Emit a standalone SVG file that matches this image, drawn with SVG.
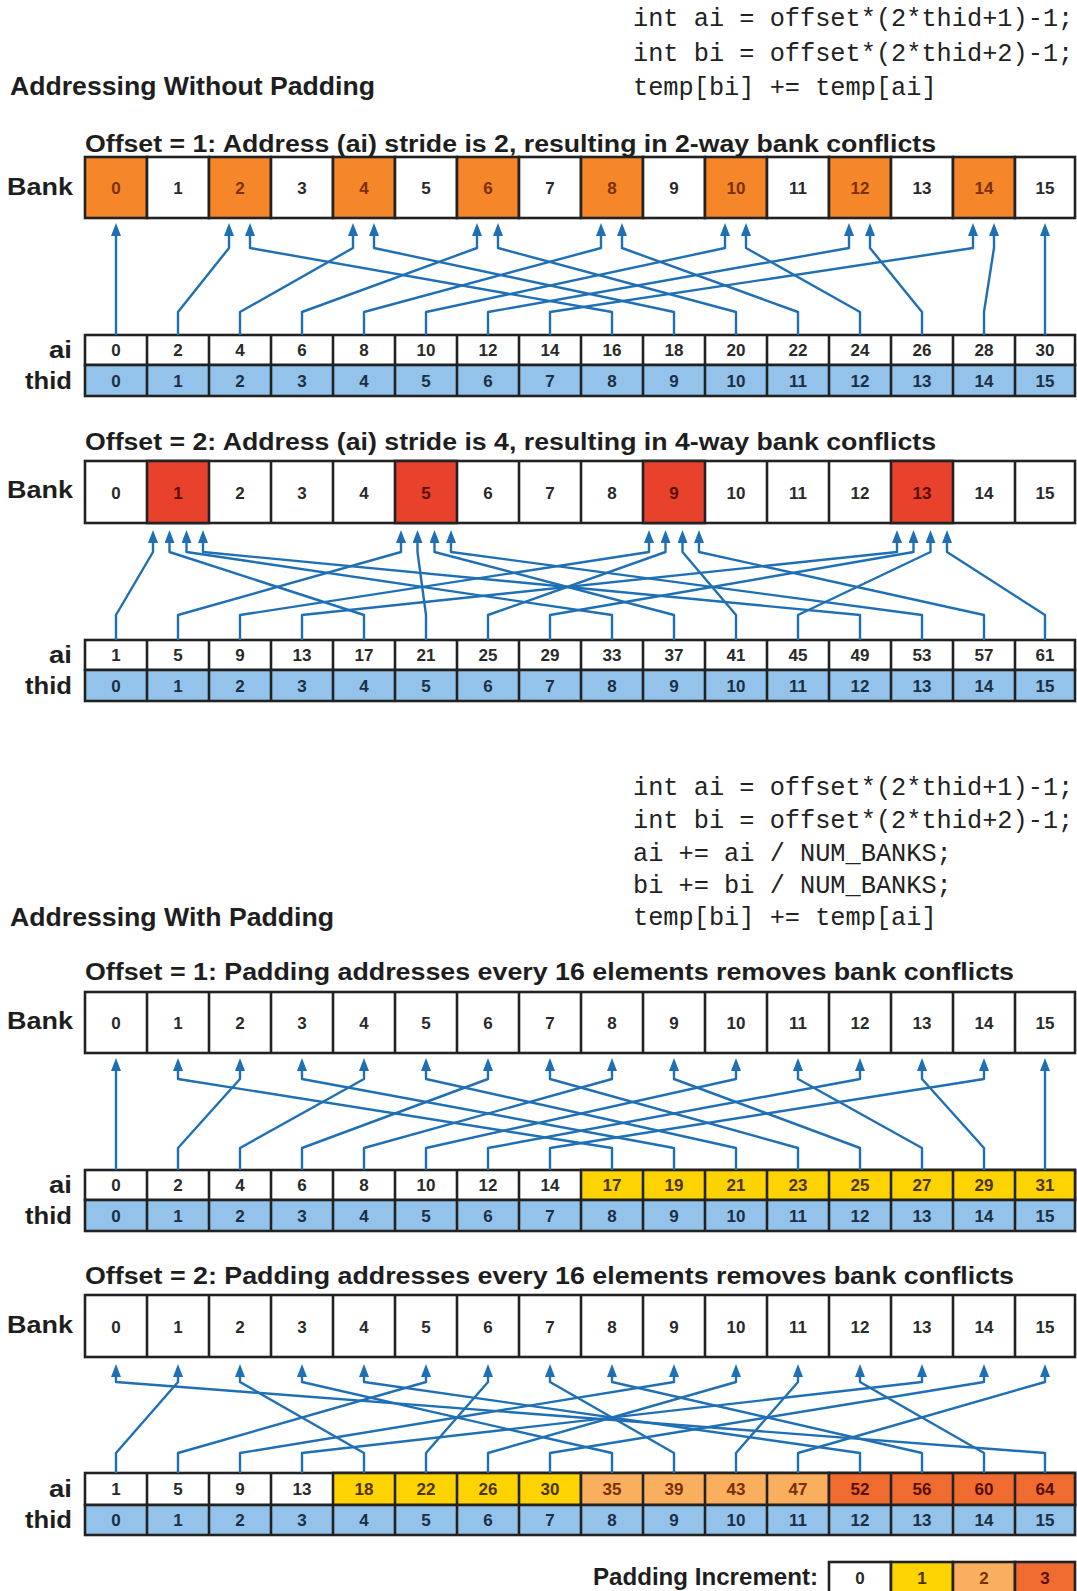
<svg xmlns="http://www.w3.org/2000/svg" width="1077" height="1591" viewBox="0 0 1077 1591">
<style>
.h{font-family:"Liberation Sans",Arial,sans-serif;font-weight:bold;fill:#1e1e1e}
.code{font-family:"Liberation Mono","Courier New",monospace;font-size:25.3px;fill:#222}
.c{stroke:#222;stroke-width:2.6}
.w{fill:#fff}.or{fill:#f5862a}.rd{fill:#e8412c}.bl{fill:#93c3ea}.y1{fill:#ffd300}.y2{fill:#f9af5e}.y3{fill:#ef6b30}
.n{font-family:"Liberation Sans",Arial,sans-serif;font-size:17px;font-weight:bold;text-anchor:middle;fill:#2a2a2a}
.nor{fill:#7a3000}.nrd{fill:#5a0e05}.nbl{fill:#1c2f45}.ny{fill:#4a3500}
.conn polyline{fill:none;stroke:#1f6fb4;stroke-width:2.4;stroke-linejoin:round;marker-end:url(#ah)}
</style>
<defs>
<marker id="ah" markerUnits="userSpaceOnUse" markerWidth="13" markerHeight="10" viewBox="0 0 13 10" refX="4" refY="5" orient="auto"><path d="M0,0 L13,5 L0,10 z" fill="#1f6fb4"/></marker>
</defs>
<rect x="0" y="0" width="1077" height="1591" fill="#fff"/>

<g id="heading-top">
<text class="h" x="10" y="95" font-size="25" textLength="365" lengthAdjust="spacingAndGlyphs">Addressing Without Padding</text>
</g>
<g id="code-top">
<text class="code" x="633" y="26">int ai = offset*(2*thid+1)-1;</text>
<text class="code" x="633" y="60.5">int bi = offset*(2*thid+2)-1;</text>
<text class="code" x="633" y="95">temp[bi] += temp[ai]</text>
</g>

<!-- Section 1 -->
<g id="s1-title"><text class="h" x="85" y="152" font-size="23" textLength="851" lengthAdjust="spacingAndGlyphs">Offset = 1: Address (ai) stride is 2, resulting in 2-way bank conflicts</text></g>
<g id="s1-bank">
<text class="h" x="7" y="195" font-size="23.5" textLength="66" lengthAdjust="spacingAndGlyphs">Bank</text>
<rect class="c or" x="85" y="157" width="62" height="61"/><rect class="c w" x="147" y="157" width="62" height="61"/>
<rect class="c or" x="209" y="157" width="62" height="61"/><rect class="c w" x="271" y="157" width="62" height="61"/>
<rect class="c or" x="333" y="157" width="62" height="61"/><rect class="c w" x="395" y="157" width="62" height="61"/>
<rect class="c or" x="457" y="157" width="62" height="61"/><rect class="c w" x="519" y="157" width="62" height="61"/>
<rect class="c or" x="581" y="157" width="62" height="61"/><rect class="c w" x="643" y="157" width="62" height="61"/>
<rect class="c or" x="705" y="157" width="62" height="61"/><rect class="c w" x="767" y="157" width="62" height="61"/>
<rect class="c or" x="829" y="157" width="62" height="61"/><rect class="c w" x="891" y="157" width="62" height="61"/>
<rect class="c or" x="953" y="157" width="62" height="61"/><rect class="c w" x="1015" y="157" width="60" height="61"/>
<text class="n nor" x="116" y="194">0</text><text class="n" x="178" y="194">1</text>
<text class="n nor" x="240" y="194">2</text><text class="n" x="302" y="194">3</text>
<text class="n nor" x="364" y="194">4</text><text class="n" x="426" y="194">5</text>
<text class="n nor" x="488" y="194">6</text><text class="n" x="550" y="194">7</text>
<text class="n nor" x="612" y="194">8</text><text class="n" x="674" y="194">9</text>
<text class="n nor" x="736" y="194">10</text><text class="n" x="798" y="194">11</text>
<text class="n nor" x="860" y="194">12</text><text class="n" x="922" y="194">13</text>
<text class="n nor" x="984" y="194">14</text><text class="n" x="1045" y="194">15</text>
</g>
<g id="s1-ai">
<text class="h" x="49" y="358" font-size="23.5" textLength="23" lengthAdjust="spacingAndGlyphs">ai</text>
<rect class="c w" x="85" y="335" width="990" height="30"/>
<path class="c" d="M147,335v30M209,335v30M271,335v30M333,335v30M395,335v30M457,335v30M519,335v30M581,335v30M643,335v30M705,335v30M767,335v30M829,335v30M891,335v30M953,335v30M1015,335v30"/>
<text class="n" x="116" y="356">0</text><text class="n" x="178" y="356">2</text><text class="n" x="240" y="356">4</text><text class="n" x="302" y="356">6</text>
<text class="n" x="364" y="356">8</text><text class="n" x="426" y="356">10</text><text class="n" x="488" y="356">12</text><text class="n" x="550" y="356">14</text>
<text class="n" x="612" y="356">16</text><text class="n" x="674" y="356">18</text><text class="n" x="736" y="356">20</text><text class="n" x="798" y="356">22</text>
<text class="n" x="860" y="356">24</text><text class="n" x="922" y="356">26</text><text class="n" x="984" y="356">28</text><text class="n" x="1045" y="356">30</text>
</g>
<g id="s1-thid">
<text class="h" x="25" y="388.5" font-size="23.5" textLength="47" lengthAdjust="spacingAndGlyphs">thid</text>
<rect class="c bl" x="85" y="365" width="990" height="31"/>
<path class="c" d="M147,365v31M209,365v31M271,365v31M333,365v31M395,365v31M457,365v31M519,365v31M581,365v31M643,365v31M705,365v31M767,365v31M829,365v31M891,365v31M953,365v31M1015,365v31"/>
<text class="n nbl" x="116" y="387">0</text><text class="n nbl" x="178" y="387">1</text><text class="n nbl" x="240" y="387">2</text><text class="n nbl" x="302" y="387">3</text>
<text class="n nbl" x="364" y="387">4</text><text class="n nbl" x="426" y="387">5</text><text class="n nbl" x="488" y="387">6</text><text class="n nbl" x="550" y="387">7</text>
<text class="n nbl" x="612" y="387">8</text><text class="n nbl" x="674" y="387">9</text><text class="n nbl" x="736" y="387">10</text><text class="n nbl" x="798" y="387">11</text>
<text class="n nbl" x="860" y="387">12</text><text class="n nbl" x="922" y="387">13</text><text class="n nbl" x="984" y="387">14</text><text class="n nbl" x="1045" y="387">15</text>
</g>
<g id="s1-connectors" class="conn">
<polyline points="116,335 116,232"/>
<polyline points="178,335 178,312 229,248 229,232"/>
<polyline points="240,335 240,312 353,248 353,232"/>
<polyline points="302,335 302,312 477,248 477,232"/>
<polyline points="364,335 364,312 601,248 601,232"/>
<polyline points="426,335 426,312 725,248 725,232"/>
<polyline points="488,335 488,312 849,248 849,232"/>
<polyline points="550,335 550,312 973,248 973,232"/>
<polyline points="612,335 612,312 250,248 250,232"/>
<polyline points="674,335 674,312 374,248 374,232"/>
<polyline points="736,335 736,312 498,248 498,232"/>
<polyline points="798,335 798,312 622,248 622,232"/>
<polyline points="860,335 860,312 746,248 746,232"/>
<polyline points="922,335 922,312 870,248 870,232"/>
<polyline points="984,335 984,312 994,248 994,232"/>
<polyline points="1045,335 1045,232"/>
</g>

<!-- Section 2 -->
<g id="s2-title"><text class="h" x="85" y="450" font-size="23" textLength="851" lengthAdjust="spacingAndGlyphs">Offset = 2: Address (ai) stride is 4, resulting in 4-way bank conflicts</text></g>
<g id="s2-bank">
<text class="h" x="7" y="498" font-size="23.5" textLength="66" lengthAdjust="spacingAndGlyphs">Bank</text>
<rect class="c w" x="85" y="461" width="990" height="62"/>
<rect class="c rd" x="147" y="461" width="62" height="62"/>
<rect class="c rd" x="395" y="461" width="62" height="62"/>
<rect class="c rd" x="643" y="461" width="62" height="62"/>
<rect class="c rd" x="891" y="461" width="62" height="62"/>
<path class="c" d="M271,461v62M333,461v62M519,461v62M581,461v62M767,461v62M829,461v62M1015,461v62"/>
<text class="n" x="116" y="498.5">0</text><text class="n nrd" x="178" y="498.5">1</text><text class="n" x="240" y="498.5">2</text><text class="n" x="302" y="498.5">3</text>
<text class="n" x="364" y="498.5">4</text><text class="n nrd" x="426" y="498.5">5</text><text class="n" x="488" y="498.5">6</text><text class="n" x="550" y="498.5">7</text>
<text class="n" x="612" y="498.5">8</text><text class="n nrd" x="674" y="498.5">9</text><text class="n" x="736" y="498.5">10</text><text class="n" x="798" y="498.5">11</text>
<text class="n" x="860" y="498.5">12</text><text class="n nrd" x="922" y="498.5">13</text><text class="n" x="984" y="498.5">14</text><text class="n" x="1045" y="498.5">15</text>
</g>
<g id="s2-ai">
<text class="h" x="49" y="663" font-size="23.5" textLength="23" lengthAdjust="spacingAndGlyphs">ai</text>
<rect class="c w" x="85" y="640" width="990" height="30"/>
<path class="c" d="M147,640v30M209,640v30M271,640v30M333,640v30M395,640v30M457,640v30M519,640v30M581,640v30M643,640v30M705,640v30M767,640v30M829,640v30M891,640v30M953,640v30M1015,640v30"/>
<text class="n" x="116" y="661">1</text><text class="n" x="178" y="661">5</text><text class="n" x="240" y="661">9</text><text class="n" x="302" y="661">13</text>
<text class="n" x="364" y="661">17</text><text class="n" x="426" y="661">21</text><text class="n" x="488" y="661">25</text><text class="n" x="550" y="661">29</text>
<text class="n" x="612" y="661">33</text><text class="n" x="674" y="661">37</text><text class="n" x="736" y="661">41</text><text class="n" x="798" y="661">45</text>
<text class="n" x="860" y="661">49</text><text class="n" x="922" y="661">53</text><text class="n" x="984" y="661">57</text><text class="n" x="1045" y="661">61</text>
</g>
<g id="s2-thid">
<text class="h" x="25" y="693.5" font-size="23.5" textLength="47" lengthAdjust="spacingAndGlyphs">thid</text>
<rect class="c bl" x="85" y="670" width="990" height="31"/>
<path class="c" d="M147,670v31M209,670v31M271,670v31M333,670v31M395,670v31M457,670v31M519,670v31M581,670v31M643,670v31M705,670v31M767,670v31M829,670v31M891,670v31M953,670v31M1015,670v31"/>
<text class="n nbl" x="116" y="692">0</text><text class="n nbl" x="178" y="692">1</text><text class="n nbl" x="240" y="692">2</text><text class="n nbl" x="302" y="692">3</text>
<text class="n nbl" x="364" y="692">4</text><text class="n nbl" x="426" y="692">5</text><text class="n nbl" x="488" y="692">6</text><text class="n nbl" x="550" y="692">7</text>
<text class="n nbl" x="612" y="692">8</text><text class="n nbl" x="674" y="692">9</text><text class="n nbl" x="736" y="692">10</text><text class="n nbl" x="798" y="692">11</text>
<text class="n nbl" x="860" y="692">12</text><text class="n nbl" x="922" y="692">13</text><text class="n nbl" x="984" y="692">14</text><text class="n nbl" x="1045" y="692">15</text>
</g>
<g id="s2-connectors" class="conn">
<polyline points="116,640 116,615 153,552 153,539"/>
<polyline points="178,640 178,615 401,552 401,539"/>
<polyline points="240,640 240,615 649,552 649,539"/>
<polyline points="302,640 302,615 897,552 897,539"/>
<polyline points="364,640 364,615 169.5,552 169.5,539"/>
<polyline points="426,640 426,615 417.5,552 417.5,539"/>
<polyline points="488,640 488,615 665.5,552 665.5,539"/>
<polyline points="550,640 550,615 913.5,552 913.5,539"/>
<polyline points="612,640 612,615 186.5,552 186.5,539"/>
<polyline points="674,640 674,615 434.5,552 434.5,539"/>
<polyline points="736,640 736,615 682.5,552 682.5,539"/>
<polyline points="798,640 798,615 930.5,552 930.5,539"/>
<polyline points="860,640 860,615 203,552 203,539"/>
<polyline points="922,640 922,615 451,552 451,539"/>
<polyline points="984,640 984,615 699,552 699,539"/>
<polyline points="1045,640 1045,615 947,552 947,539"/>
</g>

<!-- Padding header -->
<g id="heading-bottom">
<text class="h" x="10" y="926" font-size="25" textLength="324" lengthAdjust="spacingAndGlyphs">Addressing With Padding</text>
</g>
<g id="code-bottom">
<text class="code" x="633" y="795">int ai = offset*(2*thid+1)-1;</text>
<text class="code" x="633" y="828">int bi = offset*(2*thid+2)-1;</text>
<text class="code" x="633" y="861">ai += ai / NUM_BANKS;</text>
<text class="code" x="633" y="893">bi += bi / NUM_BANKS;</text>
<text class="code" x="633" y="925">temp[bi] += temp[ai]</text>
</g>

<!-- Section 3 -->
<g id="s3-title"><text class="h" x="85" y="980" font-size="23" textLength="929" lengthAdjust="spacingAndGlyphs">Offset = 1: Padding addresses every 16 elements removes bank conflicts</text></g>
<g id="s3-bank">
<text class="h" x="7" y="1029" font-size="23.5" textLength="66" lengthAdjust="spacingAndGlyphs">Bank</text>
<rect class="c w" x="85" y="992" width="990" height="61"/>
<path class="c" d="M147,992v61M209,992v61M271,992v61M333,992v61M395,992v61M457,992v61M519,992v61M581,992v61M643,992v61M705,992v61M767,992v61M829,992v61M891,992v61M953,992v61M1015,992v61"/>
<text class="n" x="116" y="1029">0</text><text class="n" x="178" y="1029">1</text><text class="n" x="240" y="1029">2</text><text class="n" x="302" y="1029">3</text>
<text class="n" x="364" y="1029">4</text><text class="n" x="426" y="1029">5</text><text class="n" x="488" y="1029">6</text><text class="n" x="550" y="1029">7</text>
<text class="n" x="612" y="1029">8</text><text class="n" x="674" y="1029">9</text><text class="n" x="736" y="1029">10</text><text class="n" x="798" y="1029">11</text>
<text class="n" x="860" y="1029">12</text><text class="n" x="922" y="1029">13</text><text class="n" x="984" y="1029">14</text><text class="n" x="1045" y="1029">15</text>
</g>
<g id="s3-ai">
<text class="h" x="49" y="1193" font-size="23.5" textLength="23" lengthAdjust="spacingAndGlyphs">ai</text>
<rect class="c w" x="85" y="1170" width="990" height="30"/>
<rect class="c y1" x="581" y="1170" width="494" height="30"/>
<path class="c" d="M147,1170v30M209,1170v30M271,1170v30M333,1170v30M395,1170v30M457,1170v30M519,1170v30M643,1170v30M705,1170v30M767,1170v30M829,1170v30M891,1170v30M953,1170v30M1015,1170v30"/>
<text class="n" x="116" y="1191">0</text><text class="n" x="178" y="1191">2</text><text class="n" x="240" y="1191">4</text><text class="n" x="302" y="1191">6</text>
<text class="n" x="364" y="1191">8</text><text class="n" x="426" y="1191">10</text><text class="n" x="488" y="1191">12</text><text class="n" x="550" y="1191">14</text>
<text class="n ny" x="612" y="1191">17</text><text class="n ny" x="674" y="1191">19</text><text class="n ny" x="736" y="1191">21</text><text class="n ny" x="798" y="1191">23</text>
<text class="n ny" x="860" y="1191">25</text><text class="n ny" x="922" y="1191">27</text><text class="n ny" x="984" y="1191">29</text><text class="n ny" x="1045" y="1191">31</text>
</g>
<g id="s3-thid">
<text class="h" x="25" y="1223.5" font-size="23.5" textLength="47" lengthAdjust="spacingAndGlyphs">thid</text>
<rect class="c bl" x="85" y="1200" width="990" height="31"/>
<path class="c" d="M147,1200v31M209,1200v31M271,1200v31M333,1200v31M395,1200v31M457,1200v31M519,1200v31M581,1200v31M643,1200v31M705,1200v31M767,1200v31M829,1200v31M891,1200v31M953,1200v31M1015,1200v31"/>
<text class="n nbl" x="116" y="1222">0</text><text class="n nbl" x="178" y="1222">1</text><text class="n nbl" x="240" y="1222">2</text><text class="n nbl" x="302" y="1222">3</text>
<text class="n nbl" x="364" y="1222">4</text><text class="n nbl" x="426" y="1222">5</text><text class="n nbl" x="488" y="1222">6</text><text class="n nbl" x="550" y="1222">7</text>
<text class="n nbl" x="612" y="1222">8</text><text class="n nbl" x="674" y="1222">9</text><text class="n nbl" x="736" y="1222">10</text><text class="n nbl" x="798" y="1222">11</text>
<text class="n nbl" x="860" y="1222">12</text><text class="n nbl" x="922" y="1222">13</text><text class="n nbl" x="984" y="1222">14</text><text class="n nbl" x="1045" y="1222">15</text>
</g>
<g id="s3-connectors" class="conn">
<polyline points="116,1170 116,1067"/>
<polyline points="178,1170 178,1148 240,1079 240,1067"/>
<polyline points="240,1170 240,1148 364,1079 364,1067"/>
<polyline points="302,1170 302,1148 488,1079 488,1067"/>
<polyline points="364,1170 364,1148 612,1079 612,1067"/>
<polyline points="426,1170 426,1148 736,1079 736,1067"/>
<polyline points="488,1170 488,1148 860,1079 860,1067"/>
<polyline points="550,1170 550,1148 984,1079 984,1067"/>
<polyline points="612,1170 612,1148 178,1079 178,1067"/>
<polyline points="674,1170 674,1148 302,1079 302,1067"/>
<polyline points="736,1170 736,1148 426,1079 426,1067"/>
<polyline points="798,1170 798,1148 550,1079 550,1067"/>
<polyline points="860,1170 860,1148 674,1079 674,1067"/>
<polyline points="922,1170 922,1148 798,1079 798,1067"/>
<polyline points="984,1170 984,1148 922,1079 922,1067"/>
<polyline points="1045,1170 1045,1067"/>
</g>

<!-- Section 4 -->
<g id="s4-title"><text class="h" x="85" y="1284" font-size="23" textLength="929" lengthAdjust="spacingAndGlyphs">Offset = 2: Padding addresses every 16 elements removes bank conflicts</text></g>
<g id="s4-bank">
<text class="h" x="7" y="1333" font-size="23.5" textLength="66" lengthAdjust="spacingAndGlyphs">Bank</text>
<rect class="c w" x="85" y="1295" width="990" height="62"/>
<path class="c" d="M147,1295v62M209,1295v62M271,1295v62M333,1295v62M395,1295v62M457,1295v62M519,1295v62M581,1295v62M643,1295v62M705,1295v62M767,1295v62M829,1295v62M891,1295v62M953,1295v62M1015,1295v62"/>
<text class="n" x="116" y="1332.5">0</text><text class="n" x="178" y="1332.5">1</text><text class="n" x="240" y="1332.5">2</text><text class="n" x="302" y="1332.5">3</text>
<text class="n" x="364" y="1332.5">4</text><text class="n" x="426" y="1332.5">5</text><text class="n" x="488" y="1332.5">6</text><text class="n" x="550" y="1332.5">7</text>
<text class="n" x="612" y="1332.5">8</text><text class="n" x="674" y="1332.5">9</text><text class="n" x="736" y="1332.5">10</text><text class="n" x="798" y="1332.5">11</text>
<text class="n" x="860" y="1332.5">12</text><text class="n" x="922" y="1332.5">13</text><text class="n" x="984" y="1332.5">14</text><text class="n" x="1045" y="1332.5">15</text>
</g>
<g id="s4-ai">
<text class="h" x="49" y="1497" font-size="23.5" textLength="23" lengthAdjust="spacingAndGlyphs">ai</text>
<rect class="c w" x="85" y="1473" width="990" height="32"/>
<rect class="c y1" x="333" y="1473" width="248" height="32"/>
<rect class="c y2" x="581" y="1473" width="248" height="32"/>
<rect class="c y3" x="829" y="1473" width="246" height="32"/>
<path class="c" d="M147,1473v32M209,1473v32M271,1473v32M395,1473v32M457,1473v32M519,1473v32M643,1473v32M705,1473v32M767,1473v32M891,1473v32M953,1473v32M1015,1473v32"/>
<text class="n" x="116" y="1495">1</text><text class="n" x="178" y="1495">5</text><text class="n" x="240" y="1495">9</text><text class="n" x="302" y="1495">13</text>
<text class="n ny" x="364" y="1495">18</text><text class="n ny" x="426" y="1495">22</text><text class="n ny" x="488" y="1495">26</text><text class="n ny" x="550" y="1495">30</text>
<text class="n nor" x="612" y="1495">35</text><text class="n nor" x="674" y="1495">39</text><text class="n nor" x="736" y="1495">43</text><text class="n nor" x="798" y="1495">47</text>
<text class="n nrd" x="860" y="1495">52</text><text class="n nrd" x="922" y="1495">56</text><text class="n nrd" x="984" y="1495">60</text><text class="n nrd" x="1045" y="1495">64</text>
</g>
<g id="s4-thid">
<text class="h" x="25" y="1527.5" font-size="23.5" textLength="47" lengthAdjust="spacingAndGlyphs">thid</text>
<rect class="c bl" x="85" y="1505" width="990" height="30"/>
<path class="c" d="M147,1505v30M209,1505v30M271,1505v30M333,1505v30M395,1505v30M457,1505v30M519,1505v30M581,1505v30M643,1505v30M705,1505v30M767,1505v30M829,1505v30M891,1505v30M953,1505v30M1015,1505v30"/>
<text class="n nbl" x="116" y="1526">0</text><text class="n nbl" x="178" y="1526">1</text><text class="n nbl" x="240" y="1526">2</text><text class="n nbl" x="302" y="1526">3</text>
<text class="n nbl" x="364" y="1526">4</text><text class="n nbl" x="426" y="1526">5</text><text class="n nbl" x="488" y="1526">6</text><text class="n nbl" x="550" y="1526">7</text>
<text class="n nbl" x="612" y="1526">8</text><text class="n nbl" x="674" y="1526">9</text><text class="n nbl" x="736" y="1526">10</text><text class="n nbl" x="798" y="1526">11</text>
<text class="n nbl" x="860" y="1526">12</text><text class="n nbl" x="922" y="1526">13</text><text class="n nbl" x="984" y="1526">14</text><text class="n nbl" x="1045" y="1526">15</text>
</g>
<g id="s4-connectors" class="conn">
<polyline points="116,1473 116,1453 178,1382 178,1373"/>
<polyline points="178,1473 178,1453 426,1382 426,1373"/>
<polyline points="240,1473 240,1453 674,1382 674,1373"/>
<polyline points="302,1473 302,1453 922,1382 922,1373"/>
<polyline points="364,1473 364,1453 240,1382 240,1373"/>
<polyline points="426,1473 426,1453 488,1382 488,1373"/>
<polyline points="488,1473 488,1453 736,1382 736,1373"/>
<polyline points="550,1473 550,1453 984,1382 984,1373"/>
<polyline points="612,1473 612,1453 302,1382 302,1373"/>
<polyline points="674,1473 674,1453 550,1382 550,1373"/>
<polyline points="736,1473 736,1453 798,1382 798,1373"/>
<polyline points="798,1473 798,1453 1045,1382 1045,1373"/>
<polyline points="860,1473 860,1453 364,1382 364,1373"/>
<polyline points="922,1473 922,1453 612,1382 612,1373"/>
<polyline points="984,1473 984,1453 860,1382 860,1373"/>
<polyline points="1045,1473 1045,1453 116,1382 116,1373"/>
</g>

<!-- Legend -->
<g id="legend">
<text class="h" x="593" y="1585" font-size="23" textLength="225" lengthAdjust="spacingAndGlyphs">Padding Increment:</text>
<rect class="c w" x="829" y="1562" width="62" height="34"/>
<rect class="c y1" x="891" y="1562" width="62" height="34"/>
<rect class="c y2" x="953" y="1562" width="62" height="34"/>
<rect class="c y3" x="1015" y="1562" width="60" height="34"/>
<text class="n" x="860" y="1584">0</text><text class="n ny" x="922" y="1584">1</text><text class="n nor" x="984" y="1584">2</text><text class="n nrd" x="1045" y="1584">3</text>
</g>
</svg>
